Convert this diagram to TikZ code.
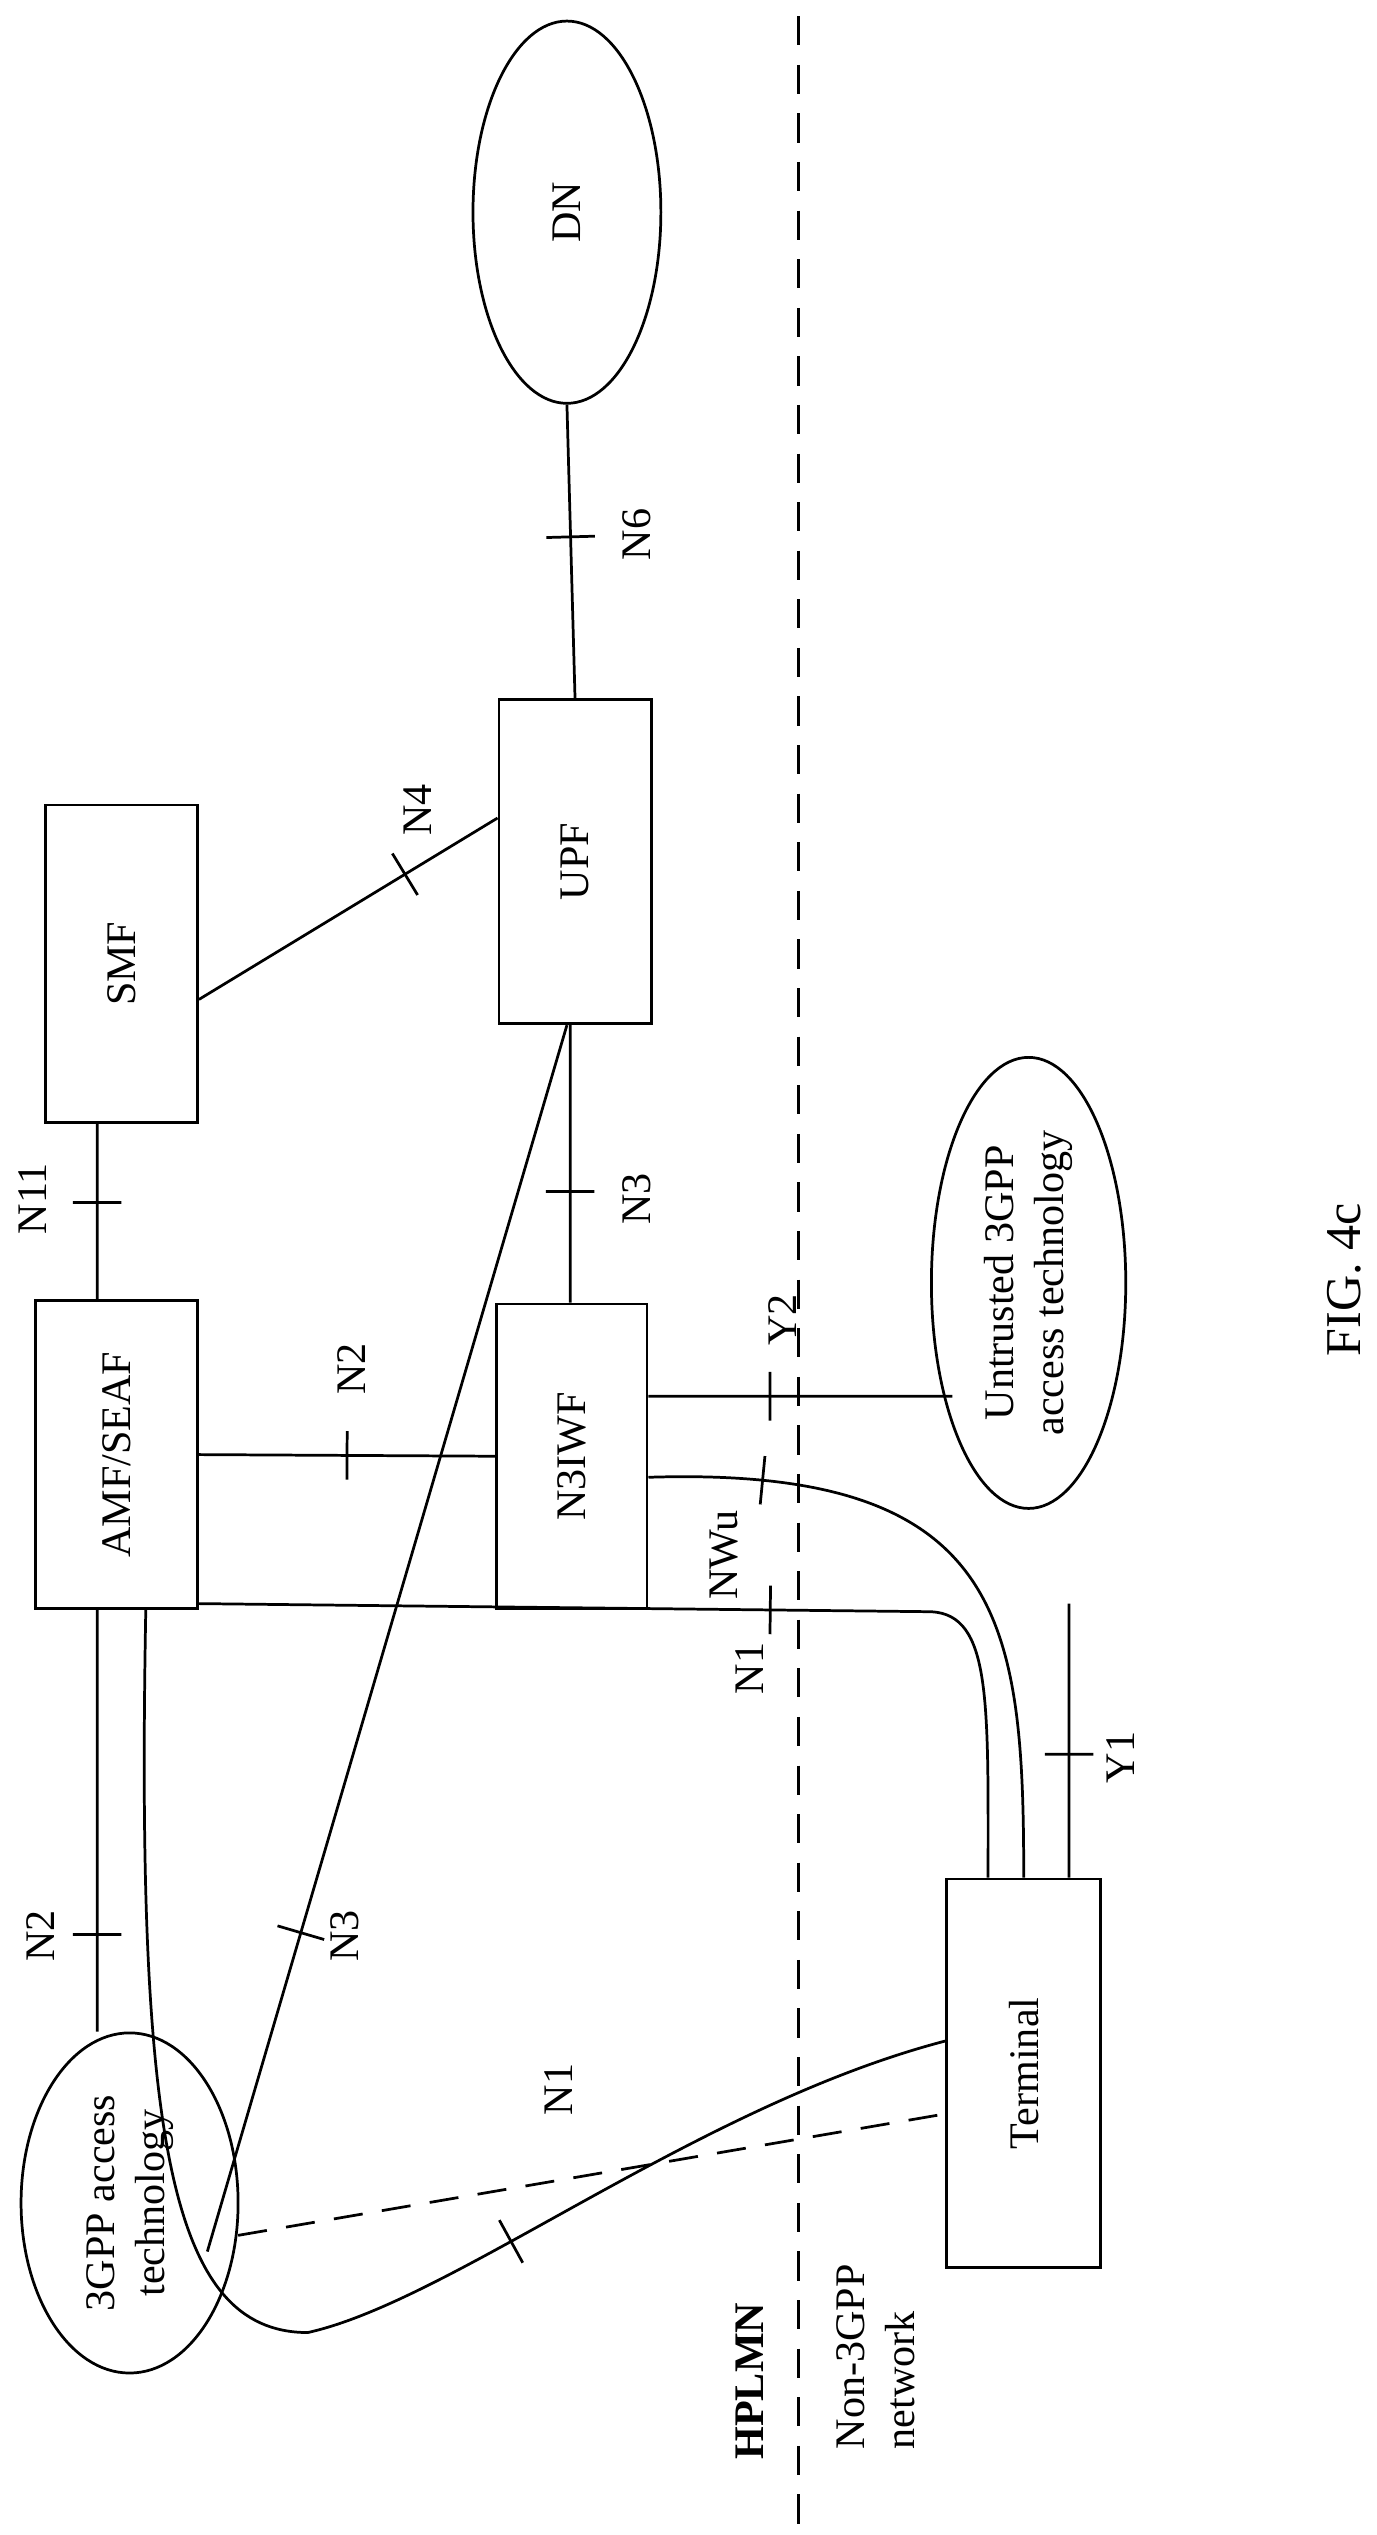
\documentclass[tikz,border=0pt]{standalone}
\usepackage{fontspec}
\setmainfont{Liberation Serif}
\usetikzlibrary{shapes.geometric}
\begin{document}
\begin{tikzpicture}[x=0.05cm,y=-0.05cm,line width=2.4pt,
  box/.style={draw,rectangle,inner sep=0pt},
  ell/.style={draw,ellipse,inner sep=0pt},
  tk/.style={sloped,draw,rectangle,minimum width=0pt,minimum height=1.5cm,inner sep=0pt,outer sep=0pt},
  lb/.style={rotate=90,inner sep=0pt},
  every node/.style={font=\fontsize{37}{44}\selectfont}]
\useasboundingbox[fill=white] (0,0) rectangle (850,1565);
\draw[dashed,line width=2.4pt,dash pattern=on 0.9cm off 0.6cm] (493,10) coordinate (d1) -- (493,1560) coordinate (d2);
\node[ell,minimum width=5.8cm,minimum height=11.8cm] (DN) at (350,131) {\rotatebox{90}{DN}};
\node[box,minimum width=4.7cm,minimum height=10cm] (UPF) at (355,532) {\rotatebox{90}{UPF}};
\node[box,minimum width=4.7cm,minimum height=9.8cm] (SMF) at (75,595) {\rotatebox{90}{SMF}};
\node[box,minimum width=5cm,minimum height=9.5cm] (AMF) at (72,898) {\rotatebox{90}{AMF/SEAF}};
\node[box,minimum width=4.65cm,minimum height=9.4cm] (N3IWF) at (353,899) {\rotatebox{90}{N3IWF}};
\node[ell,minimum width=6cm,minimum height=11.2cm] (UN) at (635,792) {\rotatebox{90}{\begin{tabular}{c}Untrusted 3GPP\\access technology\end{tabular}}};
\node[ell,minimum width=6.7cm,minimum height=10.5cm] (G) at (80,1360) {\rotatebox{90}{\begin{tabular}{c}3GPP access\\technology\end{tabular}}};
\node[box,minimum width=4.75cm,minimum height=12cm] (T) at (632,1280) {\rotatebox{90}{Terminal}};
\node[lb,font=\fontsize{44}{50}\selectfont] (fig) at (830,790) {FIG. 4c};
\node[lb,font=\fontsize{37}{44}\selectfont\bfseries] (hp) at (463,1470) {HPLMN};
\node[lb] (nn) at (543,1455) {\begin{tabular}{l}Non-3GPP\\network\end{tabular}};
% connectors
\draw (DN.south) -- node[tk,pos=.45]{} (UPF.north);
\node[lb] (lN6) at (393,330) {N6};
\draw ([yshift=-1.1cm]SMF.east) -- node[tk,pos=.69]{} ([yshift=1.35cm]UPF.west);
\node[lb] (lN4) at (258,500) {N4};
\draw ([xshift=-0.75cm]SMF.south) -- node[tk,pos=.45]{} ([xshift=-0.6cm]AMF.north);
\node[lb] (lN11) at (20,740) {N11};
\draw (AMF.east) -- node[tk,pos=.5]{} (N3IWF.west);
\node[lb] (lN2a) at (217,845) {N2};
\draw ([xshift=-0.15cm]UPF.south) -- node[tk,pos=.6]{} ([xshift=-0.05cm]N3IWF.north);
\node[lb] (lN3a) at (393,740) {N3};
\coordinate (ue) at (588,862);
\draw ([yshift=1.85cm]N3IWF.east) -- node[tk,pos=.4]{} (ue);
\node[lb] (lY2) at (483,815) {Y2};
\draw ([yshift=-0.65cm]N3IWF.east) .. controls (620,905) and (632,1000) .. node[tk,pos=.12]{} (T.north);
\node[lb] (lNWu) at (447,960) {NWu};
\draw ([yshift=-4.6cm]AMF.east) -- node[tk,pos=.78]{} (575,995) .. controls (612,997) and (610,1050) .. ([xshift=-1.1cm]T.north);
\node[lb] (lN1a) at (463,1030) {N1};
\coordinate (y1e) at (660,990);
\draw (y1e) -- node[tk,pos=.55]{} ([xshift=1.4cm]T.north);
\node[lb] (lY1) at (692,1085) {Y1};
\draw ([xshift=-0.6cm]AMF.south) -- node[tk,pos=.77]{} ([xshift=-1cm]G.north);
\node[lb] (lN2b) at (25,1195) {N2};
\draw ([xshift=0.9cm]AMF.south) .. controls (84,1320) and (105,1440) .. (190,1440) .. controls (280,1420) and (430,1300) .. node[tk,pos=.38]{} ([yshift=1cm]T.west);
\node[lb] (lN1b) at (345,1290) {N1};
\coordinate (g3) at (128,1390);
\draw ([xshift=-0.25cm]UPF.south) -- node[tk,pos=.74]{} (g3);
\node[lb] (lN3b) at (213,1195) {N3};
\coordinate (gd) at (147,1380);
\draw[dashed,dash pattern=on 0.9cm off 0.6cm] (gd) -- ([yshift=-1.25cm]T.west);
\end{tikzpicture}
\end{document}
